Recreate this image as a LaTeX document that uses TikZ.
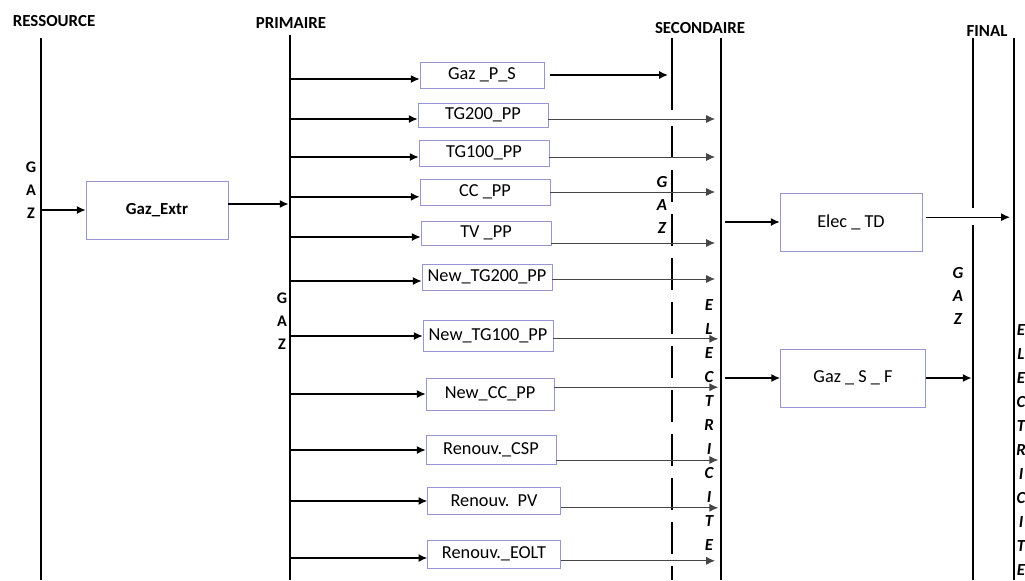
\documentclass[tikz,border=0pt]{standalone}
\usepackage{fontspec}
\setmainfont{Carlito}
\usepackage{tikz}
\usetikzlibrary{arrows.meta, positioning}
\definecolor{boxline1}{RGB}{150,150,215}
\definecolor{flow1}{RGB}{70,70,70}

\begin{document}
\begin{tikzpicture}[x=0.025cm, y=-0.025cm,
    unit/.style={draw=boxline1, thin, fill=white, minimum width=3.25cm, minimum height=0.65cm, inner sep=1pt, font=\fontsize{13}{15}\selectfont},
    bigunit/.style={unit, minimum width=3.55cm, minimum height=1.45cm},
    level/.style={font=\bfseries\fontsize{12}{14}\selectfont},
    bar/.style={line width=1.7pt},
    vgaz/.style={align=center, inner sep=0pt, font=\bfseries\fontsize{11.5}{16.3}\selectfont},
    vgazit/.style={vgaz, font=\bfseries\itshape\fontsize{12}{16.3}\selectfont},
    velec/.style={align=center, inner sep=0pt, font=\bfseries\itshape\fontsize{12}{17}\selectfont},
    inarrow/.style={-{Latex[length=2.2mm,width=2mm]}, line width=1pt},
    outarrow/.style={-{Latex[length=2.2mm,width=2mm]}, line width=0.6pt, color=flow1, shorten >=0.15cm}
]
        \useasboundingbox (0,0) rectangle (1025,580);

        % level bars
        \coordinate (restop) at (41,38);   \coordinate (resbot) at (41,580);
        \coordinate (primtop) at (290,35); \coordinate (primbot) at (290,580);
        \coordinate (gaztop) at (672,38);  \coordinate (gazmid) at (672,110);
        \coordinate (gazdash) at (672,126); \coordinate (gazbot) at (672,580);
        \coordinate (sectop) at (721,38);  \coordinate (secbot) at (721,580);
        \coordinate (fintop) at (973,38);  \coordinate (fincut) at (973,208);
        \coordinate (finback) at (973,225); \coordinate (finbot) at (973,580);
        \coordinate (electop) at (1014,38); \coordinate (elecbot) at (1014,580);

        \draw[bar] (restop) -- (resbot);
        \draw[bar] (primtop) -- (primbot);
        \draw[bar] (gaztop) -- (gazmid);
        \draw[bar, dash pattern=on 0.8cm off 0.3cm] (gazdash) -- (gazbot);
        \draw[bar] (sectop) -- (secbot);
        \draw[bar] (fintop) -- (fincut);
        \draw[bar] (finback) -- (finbot);
        \draw[bar] (electop) -- (elecbot);

        \node[level, name=res] at (54,21) {RESSOURCE};
        \node[level, name=prim] at (291,23) {PRIMAIRE};
        \node[level, name=sec] at (700,28) {SECONDAIRE};
        \node[level, name=fin] at (987,31) {FINAL};

        \node[vgaz, name=gazres] at (31,190) {G\\A\\Z};
        \node[vgaz, name=gazprim] at (282,321) {G\\A\\Z};
        \node[vgazit, name=gazsec] at (662,205) {G\\A\\Z};
        \node[vgazit, name=gazfin] at (958,296) {G\\A\\Z};
        \node[velec, name=elecsec] at (709,425) {E\\L\\E\\C\\T\\R\\I\\C\\I\\T\\E};
        \node[velec, name=elecfin] at (1021,450) {E\\L\\E\\C\\T\\R\\I\\C\\I\\T\\E};

        % units
        \node[bigunit, font=\bfseries\fontsize{12}{14}\selectfont, name=extr] at (157,210) {Gaz\_Extr};
        \node[unit, minimum width=3.1cm, name=GazPS] at (482,75) {Gaz \_P\_S};
        \node[unit, minimum height=0.6cm, name=TG200] at (483,115) {TG200\_PP};
        \node[unit, name=TG100] at (484,153) {TG100\_PP};
        \node[unit, name=CC] at (485,192) {CC \_PP};
        \node[unit, minimum height=0.6cm, name=TV] at (486,233) {TV \_PP};
        \node[unit, name=NTG200] at (487,277) {New\_TG200\_PP};
        \node[unit, minimum height=0.78cm, name=NTG100] at (488,336) {New\_TG100\_PP};
        \node[unit, minimum width=3.2cm, minimum height=0.8cm, name=NCC] at (490,394) {New\_CC\_PP};
        \node[unit, minimum height=0.72cm, name=CSP] at (491,450) {Renouv.\_CSP};
        \node[unit, minimum width=3.32cm, minimum height=0.68cm, name=PV] at (494,501) {Renouv.\ \ PV};
        \node[unit, minimum width=3.32cm, minimum height=0.7cm, name=EOLT] at (494,554) {Renouv.\_EOLT};
        \node[bigunit, name=elecTD] at (851,222) {Elec \_ TD};
        \node[bigunit, minimum width=3.63cm, name=gazSF] at (853,378) {Gaz \_ S \_ F};

        % resource -> primary
        \draw[inarrow] (restop |- extr.west) -- (extr.west);
        \draw[inarrow, shorten >=1pt] ([yshift=0.15cm]extr.east) -- ([yshift=0.15cm]extr.east -| primtop);

        % primary -> units
        \draw[inarrow] ([yshift=-0.1cm]primtop |- GazPS.west) -- ([yshift=-0.1cm]GazPS.west);
        \draw[inarrow] ([yshift=-0.1cm]primtop |- TG200.west) -- ([yshift=-0.1cm]TG200.west);
        \draw[inarrow] ([yshift=-0.1cm]primtop |- TG100.west) -- ([yshift=-0.1cm]TG100.west);
        \draw[inarrow] ([yshift=-0.12cm]primtop |- CC.west) -- ([yshift=-0.12cm]CC.west);
        \draw[inarrow] ([yshift=-0.1cm]primtop |- TV.west) -- ([yshift=-0.1cm]TV.west);
        \draw[inarrow] ([yshift=-0.1cm]primtop |- NTG200.west) -- ([yshift=-0.1cm]NTG200.west);
        \draw[inarrow] (primtop |- NTG100.west) -- (NTG100.west);
        \draw[inarrow] (primtop |- NCC.west) -- (NCC.west);
        \draw[inarrow] (primtop |- CSP.west) -- (CSP.west);
        \draw[inarrow] (primtop |- PV.west) -- (PV.west);
        \draw[inarrow] ([yshift=-0.1cm]primtop |- EOLT.west) -- ([yshift=-0.1cm]EOLT.west);

        % units -> secondary
        \draw[inarrow, shorten <=0.15cm, shorten >=0.1cm] (GazPS.east) -- (GazPS.east -| gaztop);
        \draw[outarrow] ([yshift=-0.1cm]TG200.east) -- ([yshift=-0.1cm]TG200.east -| sectop);
        \draw[outarrow] ([yshift=-0.1cm]TG100.east) -- ([yshift=-0.1cm]TG100.east -| sectop);
        \draw[outarrow] (CC.east) -- (CC.east -| sectop);
        \draw[outarrow] ([yshift=-0.25cm]TV.east) -- ([yshift=-0.25cm]TV.east -| sectop);
        \draw[outarrow] ([yshift=-0.05cm]NTG200.east) -- ([yshift=-0.05cm]NTG200.east -| sectop);
        \draw[outarrow, shorten >=0.07cm] ([yshift=-0.07cm]NTG100.east) -- ([yshift=-0.07cm]NTG100.east -| sectop);
        \draw[outarrow, shorten >=0.07cm] ([yshift=0.17cm]NCC.east) -- ([yshift=0.17cm]NCC.east -| sectop);
        \draw[outarrow, shorten >=0.07cm] ([yshift=-0.25cm]CSP.east) -- ([yshift=-0.25cm]CSP.east -| sectop);
        \draw[outarrow, shorten >=0.07cm] ([yshift=-0.17cm]PV.east) -- ([yshift=-0.17cm]PV.east -| sectop);
        \draw[outarrow] ([yshift=-0.17cm]EOLT.east) -- ([yshift=-0.17cm]EOLT.east -| sectop);

        % secondary -> final
        \draw[inarrow, shorten <=0.1cm] (sectop |- elecTD.west) -- (elecTD.west);
        \draw[inarrow, shorten <=0.1cm] (sectop |- gazSF.west) -- (gazSF.west);
        \draw[inarrow, shorten <=0.08cm, shorten >=0.1cm] ([yshift=0.12cm]elecTD.east) -- ([yshift=0.12cm]elecTD.east -| electop);
        \draw[inarrow, shorten >=1pt] (gazSF.east) -- (gazSF.east -| fintop);

\end{tikzpicture}
\end{document}
